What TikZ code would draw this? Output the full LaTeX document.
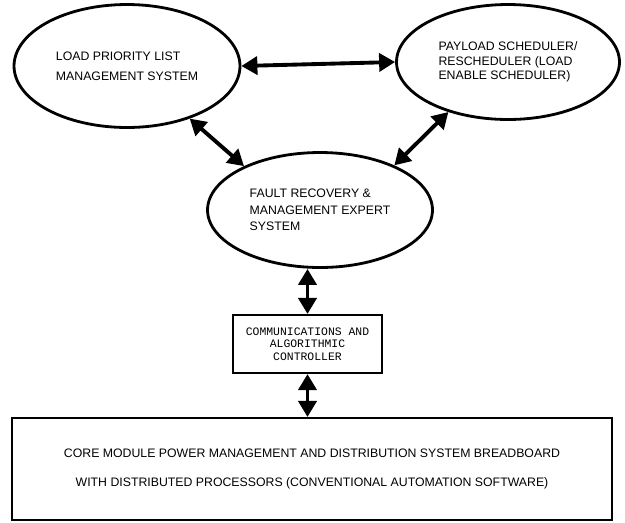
\documentclass[tikz,border=0pt]{standalone}
\usepackage{fontspec}
\setmainfont{Liberation Sans}
\setmonofont{Liberation Mono}
\usetikzlibrary{arrows.meta,shapes.geometric}
\tikzset{
  bubble/.style={draw, ellipse, line width=1.6pt, align=left, inner sep=0pt,
                 font=\fontsize{7}{9.4}\selectfont},
  ctrlbox/.style={draw, rectangle, line width=1.2pt, align=center, inner sep=0pt,
                  minimum width=2.98cm, minimum height=1.16cm,
                  font=\ttfamily\fontsize{6.5}{7.2}\selectfont},
  basebox/.style={draw, rectangle, line width=1.2pt, align=center, inner sep=0pt,
                  minimum width=12cm, minimum height=2.04cm,
                  font=\fontsize{7}{16}\selectfont},
  link/.style={{Triangle[length=3.2mm,width=3.6mm]}-{Triangle[length=3.2mm,width=3.6mm]},
               line width=2.2pt},
}

\begin{document}
\begin{tikzpicture}[x=0.02cm, y=-0.02cm]
  \useasboundingbox (0,0) rectangle (625,522);
  \node[bubble, minimum width=4.52cm, minimum height=2.46cm,
        font=\fontsize{7}{11.3}\selectfont] (lpl) at (127,66)
    {LOAD PRIORITY LIST\\MANAGEMENT SYSTEM};
  \node[bubble, minimum width=4.46cm, minimum height=2.3cm,
        font=\fontsize{7}{8.4}\selectfont] (pls) at (508,62)
    {PAYLOAD SCHEDULER/\\RESCHEDULER (LOAD\\ENABLE SCHEDULER)};
  \node[bubble, minimum width=4.5cm, minimum height=2.3cm] (fra) at (320,210)
    {FAULT RECOVERY \&\\MANAGEMENT EXPERT\\SYSTEM};
  \node[ctrlbox] (cac) at (307.5,344)
    {COMMUNICATIONS AND\\ALGORITHMIC\\CONTROLLER};
  \node[basebox] (pmd) at (312,469)
    {CORE MODULE POWER MANAGEMENT AND DISTRIBUTION SYSTEM BREADBOARD\\
     WITH DISTRIBUTED PROCESSORS (CONVENTIONAL AUTOMATION SOFTWARE)};
  \draw[link] (lpl.east) -- (pls.west);
  \draw[link] (lpl.-40)  -- (fra.150);
  \draw[link] (pls.-140) -- (fra.31);
  \draw[link] (fra.south -| cac.north) -- (cac.north);
  \draw[link] (cac.south) -- (cac.south |- pmd.north);
\end{tikzpicture}
\end{document}
